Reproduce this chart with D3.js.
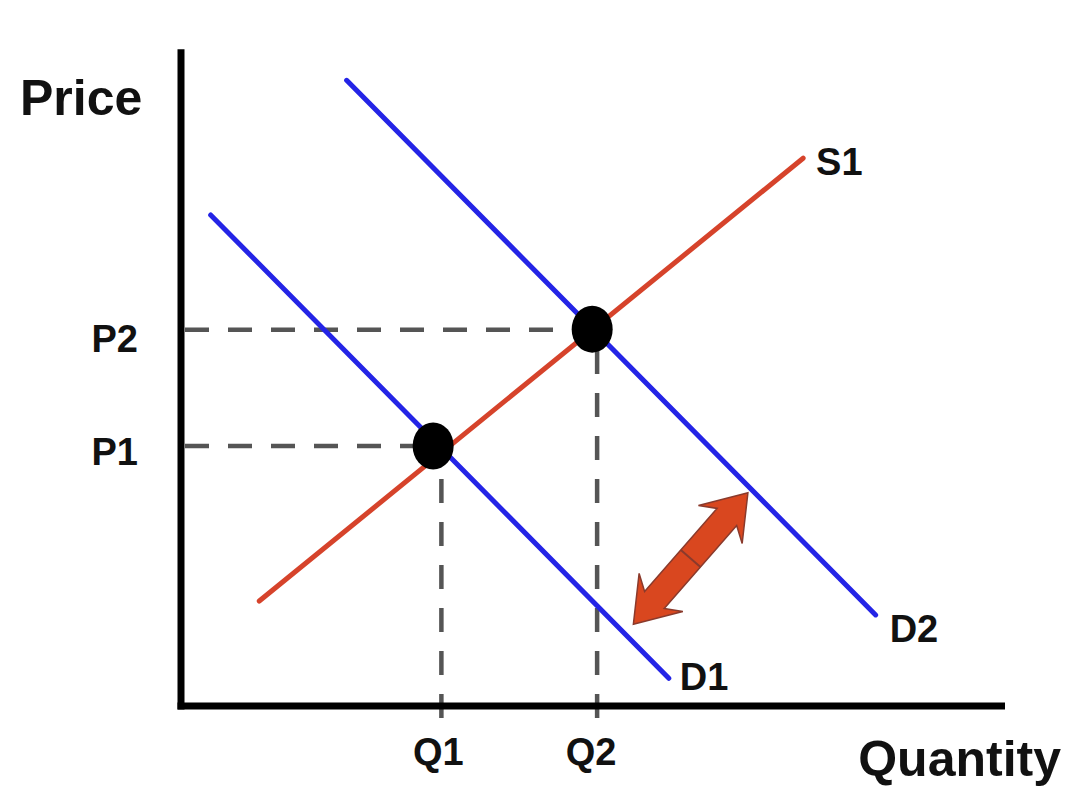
<!DOCTYPE html>
<html>
<head>
<meta charset="utf-8">
<script src="https://cdn.jsdelivr.net/npm/d3@7"></script>
<style>
  html, body { margin: 0; padding: 0; background: #fff; }
  svg { display: block; }
  text { font-family: "Liberation Sans", Arial, sans-serif; font-weight: bold; fill: #111; }
</style>
</head>
<body>
<svg id="chart" width="1080" height="802"></svg>
<script>
// ---- data (quantity, price) in chart units ----
const supplyS1 = [[0.95, 1.59], [7.55, 8.30]];
const demandD1 = [[0.36, 7.44], [5.92, 0.42]];
const demandD2 = [[2.01, 9.48], [8.43, 1.38]];
const curveLabels = ["S1", "D1", "D2"];
const equilibriumQ = [3.06, 4.99];
const equilibriumP = [3.94, 5.71];
const priceTickLabels = ["P1", "P2"];
const priceTickValues = [3.94, 5.70];
const quantityTickLabels = ["Q1", "Q2"];
const quantityTickValues = [3.16, 5.05];
const shiftArrow = [[5.49, 1.24], [6.88, 3.23]];
const axisTitles = ["Price", "Quantity"];

const svg = d3.select("#chart");
const x = d3.scaleLinear().domain([0, 10]).range([181, 1005]);
const y = d3.scaleLinear().domain([0, 10]).range([706, 46]);

const line = d3.line().x(d => x(d[0])).y(d => y(d[1]));

// dashed guide lines
const guides = svg.append("g").attr("stroke", "#555").attr("stroke-width", 4.5)
  .attr("stroke-dasharray", "24,19").attr("fill", "none");
priceTickValues.forEach((p, i) => {
  guides.append("line")
    .attr("x1", x(0) + 4).attr("y1", y(p))
    .attr("x2", x(equilibriumQ[i])).attr("y2", y(p));
});
quantityTickValues.forEach((q, i) => {
  guides.append("line")
    .attr("x1", x(q)).attr("y1", y(0) + 12)
    .attr("x2", x(q)).attr("y2", y(equilibriumP[i]));
});

// curves
const curves = [
  { pts: supplyS1, color: "#d6432b" },
  { pts: demandD1, color: "#2424e6" },
  { pts: demandD2, color: "#2424e6" }
];
svg.append("g").selectAll("path").data(curves).join("path")
  .attr("d", d => line(d.pts))
  .attr("stroke", d => d.color)
  .attr("stroke-width", 5)
  .attr("stroke-linecap", "round")
  .attr("fill", "none");

// equilibrium dots
svg.append("g").selectAll("ellipse").data(equilibriumQ).join("ellipse")
  .attr("cx", d => x(d))
  .attr("cy", (d, i) => y(equilibriumP[i]))
  .attr("rx", 20.5).attr("ry", 23.5)
  .attr("fill", "#000");

// axes
const axes = svg.append("g").attr("stroke", "#000").attr("stroke-width", 7).attr("fill", "none");
axes.append("line").attr("x1", x(0)).attr("y1", y(9.95)).attr("x2", x(0)).attr("y2", y(0) + 3.5);
axes.append("line").attr("x1", x(0) - 3.5).attr("y1", y(0)).attr("x2", x(10)).attr("y2", y(0));

// shift arrow (double-headed)
(function () {
  const x1 = x(shiftArrow[0][0]), y1 = y(shiftArrow[0][1]);
  const x2 = x(shiftArrow[1][0]), y2 = y(shiftArrow[1][1]);
  const L = Math.hypot(x2 - x1, y2 - y1);
  const ang = Math.atan2(y2 - y1, x2 - x1) * 180 / Math.PI;
  const sh = 13, hw = 29, hl = 32, sweep = 10;
  const pts = [
    [0, 0], [hl + sweep, hw], [hl, sh], [L - hl, sh], [L - hl - sweep, hw],
    [L, 0], [L - hl - sweep, -hw], [L - hl, -sh], [hl, -sh], [hl + sweep, -hw]
  ];
  const g = svg.append("g").attr("transform", `translate(${x1},${y1}) rotate(${ang})`);
  g.append("path")
    .attr("d", "M" + pts.map(p => p.join(",")).join("L") + "Z")
    .attr("fill", "#d9471f")
    .attr("stroke", "#8a3a2c")
    .attr("stroke-width", 1.5)
    .attr("stroke-linejoin", "miter");
  g.append("line")
    .attr("x1", L / 2).attr("y1", -sh).attr("x2", L / 2).attr("y2", sh)
    .attr("stroke", "#8a3a2c").attr("stroke-width", 2);
})();

// curve labels
const labelPos = [
  { t: curveLabels[0], q: supplyS1[1][0], p: supplyS1[1][1], dx: 13, dy: 17 },
  { t: curveLabels[1], q: demandD1[1][0], p: demandD1[1][1], dx: 11, dy: 12 },
  { t: curveLabels[2], q: demandD2[1][0], p: demandD2[1][1], dx: 14, dy: 27 }
];
svg.append("g").selectAll("text").data(labelPos).join("text")
  .attr("x", d => x(d.q) + d.dx)
  .attr("y", d => y(d.p) + d.dy)
  .attr("font-size", 38)
  .text(d => d.t);

// price tick labels
svg.append("g").selectAll("text").data(priceTickValues).join("text")
  .attr("x", 138)
  .attr("y", (d, i) => y(d) + (i === 0 ? 19 : 22))
  .attr("text-anchor", "end")
  .attr("font-size", 38)
  .text((d, i) => priceTickLabels[i]);

// quantity tick labels
svg.append("g").selectAll("text").data(quantityTickValues).join("text")
  .attr("x", (d, i) => x(d) - (i === 0 ? 3 : 6))
  .attr("y", 765)
  .attr("text-anchor", "middle")
  .attr("font-size", 38)
  .text((d, i) => quantityTickLabels[i]);

// axis titles
svg.append("text").attr("x", 20).attr("y", 115).attr("font-size", 50).text(axisTitles[0]);
svg.append("text").attr("x", 1061).attr("y", 776).attr("text-anchor", "end").attr("font-size", 50).text(axisTitles[1]);
</script>
</body>
</html>
